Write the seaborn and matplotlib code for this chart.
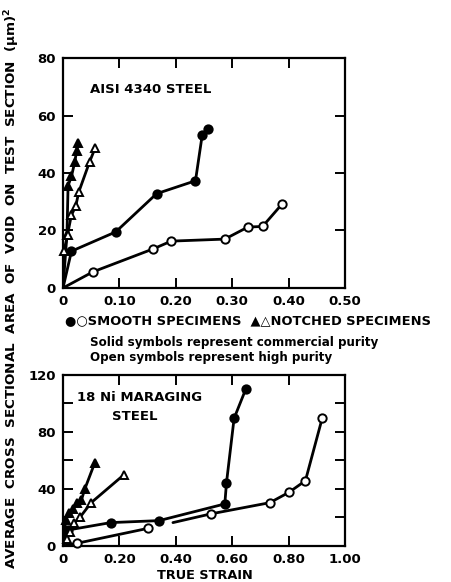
import matplotlib
matplotlib.use("Agg")
import matplotlib.pyplot as plt
import seaborn as sns
import pandas as pd

sns.set_theme(style="ticks")
plt.rcParams['font.family'] = ['DejaVu Sans']
plt.rcParams['font.weight'] = 'bold'
plt.rcParams['text.color'] = 'black'
plt.rcParams['xtick.color'] = 'black'
plt.rcParams['ytick.color'] = 'black'
plt.rcParams['xtick.labelcolor'] = 'black'
plt.rcParams['ytick.labelcolor'] = 'black'

# ---- AISI 4340 steel (top) ----
top_smooth_solid_x = [0, 0.015, 0.0935, 0.166, 0.235, 0.247, 0.257]
top_smooth_solid_y = [0, 12.8, 19.5, 32.8, 37.3, 53.3, 55.3]
top_smooth_open_x = [0, 0.053, 0.16, 0.192, 0.287, 0.328, 0.354, 0.389]
top_smooth_open_y = [0, 5.6, 13.6, 16.3, 17.0, 21.2, 21.4, 29.3]
top_notch_solid_x = [0, 0.007, 0.009, 0.015, 0.021, 0.024, 0.027]
top_notch_solid_y = [0, 18.5, 35.6, 38.8, 44.0, 47.5, 50.4]
top_notch_open_x = [0.002, 0.008, 0.0148, 0.0225, 0.028, 0.047, 0.057]
top_notch_open_y = [13.0, 18.5, 25.3, 28.4, 33.4, 43.8, 48.7]

# ---- 18 Ni maraging steel (bottom) ----
bot_smooth_solid_x = [0, 0.018, 0.169, 0.341, 0.574, 0.58, 0.607, 0.648]
bot_smooth_solid_y = [0, 11.2, 16.4, 17.8, 29.5, 44.4, 89.6, 109.9]
bot_smooth_open1_x = [0, 0.05, 0.302]
bot_smooth_open1_y = [0, 1.9, 12.4]
bot_smooth_open2_x = [0.39, 0.524, 0.734, 0.802, 0.86, 0.92]
bot_smooth_open2_y = [16.4, 22.5, 30.4, 37.7, 45.8, 90.0]
bot_notch_solid_x = [0, 0.01, 0.02, 0.035, 0.05, 0.065, 0.077, 0.112]
bot_notch_solid_y = [0, 18, 23, 26, 30, 32, 39.8, 58]
bot_notch_open_x = [0, 0.015, 0.025, 0.039, 0.062, 0.1, 0.215]
bot_notch_open_y = [0, 5, 10, 15.9, 20.6, 30.4, 49.8]

fig = plt.figure(figsize=(4.51, 5.82), dpi=100)
ax1 = fig.add_axes([0.1397, 0.5052, 0.625, 0.3951])
ax2 = fig.add_axes([0.1397, 0.0619, 0.625, 0.2938])

def series(ax, x, y, marker, filled, ms=6.0, mstart=0):
    df = pd.DataFrame({"x": x, "y": y})
    sns.lineplot(data=df, x="x", y="y", ax=ax, sort=False, color="black",
                 linewidth=2.0, estimator=None, legend=False)
    d = df.iloc[mstart:]
    ax.plot(d["x"], d["y"], linestyle="none", marker=marker, markersize=ms,
            markerfacecolor="black" if filled else "white",
            markeredgecolor="black", markeredgewidth=1.4, zorder=5, clip_on=False)

series(ax1, top_smooth_solid_x, top_smooth_solid_y, "o", True, mstart=1)
series(ax1, top_smooth_open_x, top_smooth_open_y, "o", False, mstart=1)
series(ax1, top_notch_solid_x, top_notch_solid_y, "^", True, mstart=1)
series(ax1, top_notch_open_x, top_notch_open_y, "^", False)

series(ax2, bot_smooth_solid_x, bot_smooth_solid_y, "o", True, mstart=1)
series(ax2, bot_smooth_open1_x, bot_smooth_open1_y, "o", False, mstart=1)
series(ax2, bot_smooth_open2_x, bot_smooth_open2_y, "o", False, mstart=1)
series(ax2, bot_notch_solid_x, bot_notch_solid_y, "^", True, mstart=1)
series(ax2, bot_notch_open_x, bot_notch_open_y, "^", False, mstart=1)

for ax in (ax1, ax2):
    ax.set_xlabel("")
    ax.set_ylabel("")
    for s in ax.spines.values():
        s.set_linewidth(1.6)
        s.set_color("black")
    ax.tick_params(direction="in", length=7, width=1.4, top=True, right=True,
                   labelsize=9.5, pad=5, colors="black")

ax1.set_xlim(0, 0.5)
ax1.set_ylim(0, 80)
ax1.set_xticks([0, 0.1, 0.2, 0.3, 0.4, 0.5])
ax1.set_xticklabels(["0", "0.10", "0.20", "0.30", "0.40", "0.50"], fontweight="bold")
ax1.set_yticks([0, 20, 40, 60, 80])
ax1.set_yticklabels(["0", "20", "40", "60", "80"], fontweight="bold")

ax2.set_xlim(0, 1.0)
ax2.set_ylim(0, 120)
ax2.set_xticks([0, 0.2, 0.4, 0.6, 0.8, 1.0])
ax2.set_xticklabels(["0", "0.20", "0.40", "0.60", "0.80", "1.00"], fontweight="bold")
ax2.set_yticks([0, 20, 40, 60, 80, 100, 120])
ax2.set_yticklabels(["0", "", "40", "", "80", "", "120"], fontweight="bold")

ax1.text(0.047, 69, "AISI 4340 STEEL", fontsize=9.5, fontweight="bold", va="center")
ax2.text(0.048, 104, "18 Ni MARAGING", fontsize=9.5, fontweight="bold", va="center")
ax2.text(0.175, 91, "STEEL", fontsize=9.5, fontweight="bold", va="center")

fig.text(0.145, 0.449, "\u25cf\u25cbSMOOTH SPECIMENS  \u25b2\u25b3NOTCHED SPECIMENS",
         fontsize=9.4, fontweight="bold", va="center", ha="left")
fig.text(0.2, 0.412, "Solid symbols represent commercial purity",
         fontsize=8.6, fontweight="bold", va="center", ha="left")
fig.text(0.2, 0.386, "Open symbols represent high purity",
         fontsize=8.6, fontweight="bold", va="center", ha="left")

fig.text(0.455, 0.012, "TRUE STRAIN", fontsize=9.3, fontweight="bold",
         ha="center", va="center")
fig.text(0.027, 0.505,
         "AVERAGE  CROSS  SECTIONAL  AREA  OF  VOID  ON  TEST  SECTION  ($\\mathbf{\\mu}$m)$^\\mathbf{2}$",
         rotation=90, fontsize=9.7, fontweight="bold", ha="center", va="center")

fig.savefig("out.png", dpi=100, facecolor="white")
